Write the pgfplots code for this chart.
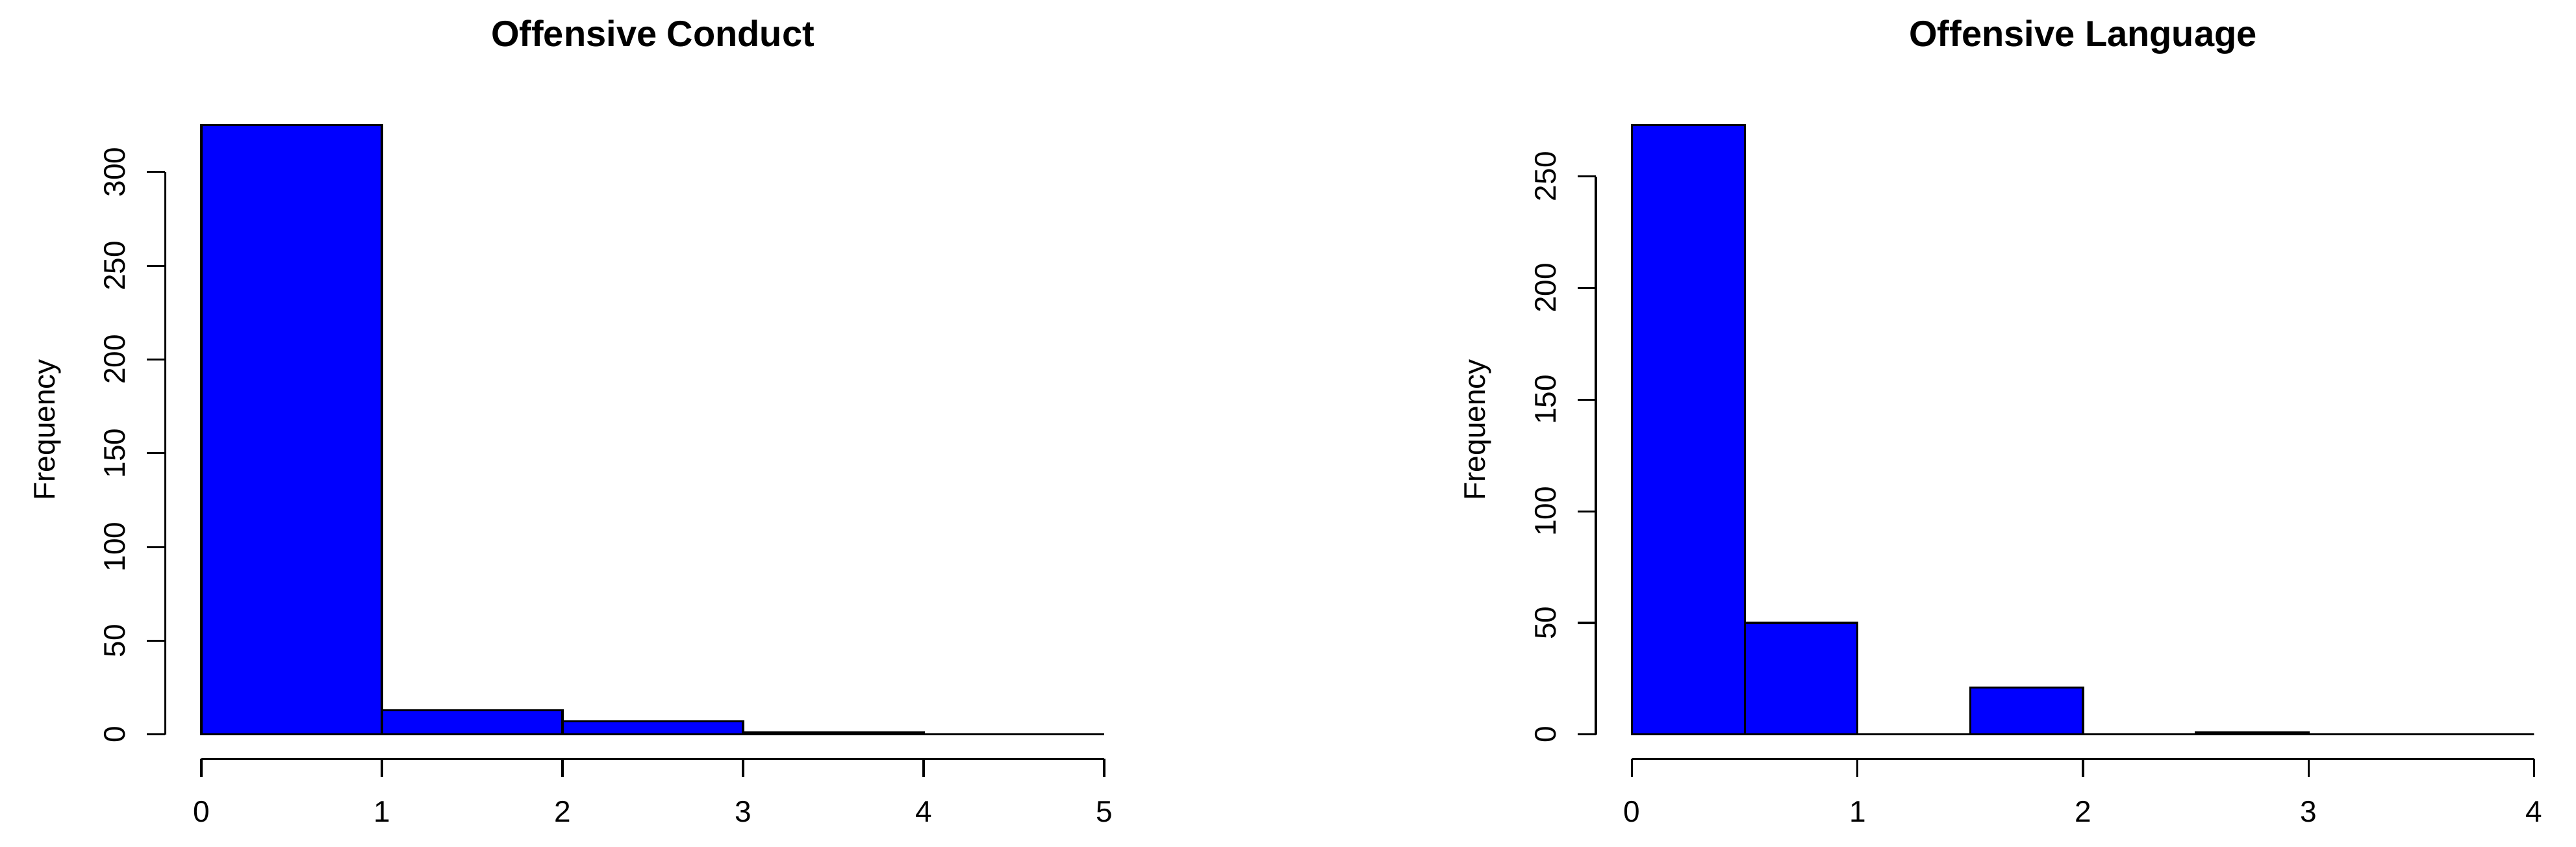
\documentclass[border=0pt]{standalone}
\usepackage{fontspec}
\setmainfont{Liberation Sans}
\usepackage{pgfplots}
\pgfplotsset{compat=1.18}
\pgfplotsset{
  rhist/.style={
    scale only axis,
    clip=false,
    axis lines*=left,
    axis line style={draw=none},
    tick align=outside,
    major tick length=7pt,
    tick style={black, line width=0.8pt},
    /pgf/number format/assume math mode=true,
    ticklabel style={font=\fontsize{11.5}{13}\selectfont},
    xticklabel style={anchor=base},
    yticklabel style={rotate=90, anchor=base},
    xticklabel shift=17.4pt,
    yticklabel shift=8.5pt,
    ylabel={Frequency},
    ylabel style={font=\fontsize{11.5}{13}\selectfont, anchor=base},
    title style={at={(0.5,1)}, anchor=base, yshift=15pt, font=\bfseries\fontsize{14}{16}\selectfont},
  },
  hbar/.style={ybar interval, fill=blue, draw=black, line width=0.8pt, mark=none}
}
\begin{document}
\begin{tikzpicture}
\useasboundingbox (0,0) rectangle (991.5pt,326pt);
\begin{axis}[rhist,
  at={(63.6pt,33.9pt)}, anchor=south west,
  width=375.3pt, height=253.3pt,
  xmin=-0.2, xmax=5.2, ymin=-13, ymax=338,
  xtick={0,1,2,3,4,5}, ytick={0,50,100,150,200,250,300},
  ylabel style={at={(axis description cs:-0.1135,0.5)}},
  title={Offensive Conduct}]
\addplot[hbar] coordinates {(0,325) (1,13) (2,7) (3,1) (4,0) (5,0)};
\draw[line width=0.8pt] (axis cs:0,-13) -- (axis cs:5,-13);
\draw[line width=0.8pt] (axis cs:-0.2,0) -- (axis cs:-0.2,300);
\end{axis}
\begin{axis}[rhist,
  at={(614.25pt,33.9pt)}, anchor=south west,
  width=375pt, height=253.3pt,
  xmin=-0.16, xmax=4.16, ymin=-10.92, ymax=283.92,
  xtick={0,1,2,3,4}, ytick={0,50,100,150,200,250},
  ylabel style={at={(axis description cs:-0.1135,0.5)}},
  title={Offensive Language}]
\addplot[hbar] coordinates {(0,273) (0.5,50) (1,0) (1.5,21) (2,0) (2.5,1) (3,0) (3.5,0) (4,0)};
\draw[line width=0.8pt] (axis cs:0,-10.92) -- (axis cs:4,-10.92);
\draw[line width=0.8pt] (axis cs:-0.16,0) -- (axis cs:-0.16,250);
\end{axis}
\end{tikzpicture}
\end{document}
